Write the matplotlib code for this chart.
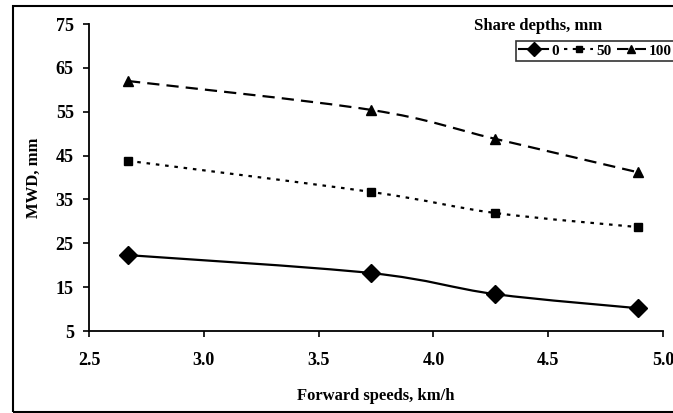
import matplotlib
matplotlib.use("Agg")
import matplotlib.pyplot as plt
from matplotlib.path import Path
from matplotlib.patches import PathPatch, Rectangle
from matplotlib.lines import Line2D
import numpy as np

plt.rcParams['font.family'] = ['Liberation Serif', 'DejaVu Serif']
plt.rcParams['font.weight'] = 'bold'

# data
speeds = [2.67, 3.73, 4.27, 4.89]
mwd_0 = [22.3, 18.2, 13.4, 10.2]
mwd_50 = [43.8, 36.7, 31.9, 28.7]
mwd_100 = [62.0, 55.4, 48.8, 41.2]
depth_labels = ['0', '50', '100']
yticks = [5, 15, 25, 35, 45, 55, 65, 75]
xticks = [2.5, 3.0, 3.5, 4.0, 4.5, 5.0]


def smooth_path(x, y):
    # excel-like smoothed line: catmull-rom converted to cubic beziers
    x = np.asarray(x, float)
    y = np.asarray(y, float)
    n = len(x)
    verts = [(x[0], y[0])]
    codes = [Path.MOVETO]
    for i in range(n - 1):
        i0 = max(i - 1, 0)
        i3 = min(i + 2, n - 1)
        c1 = (x[i] + (x[i + 1] - x[i0]) / 6, y[i] + (y[i + 1] - y[i0]) / 6)
        c2 = (x[i + 1] - (x[i3] - x[i]) / 6, y[i + 1] - (y[i3] - y[i]) / 6)
        verts += [c1, c2, (x[i + 1], y[i + 1])]
        codes += [Path.CURVE4] * 3
    return Path(verts, codes)


fig = plt.figure(figsize=(6.73, 4.13), dpi=100)
ax = fig.add_axes([89 / 673, 82 / 413, 574 / 673, 307 / 413])

series = [
    (mwd_0, 'D', 9.5, '-'),
    (mwd_50, 's', 6, (0, (1.6, 2.6))),
    (mwd_100, '^', 7, (0, (5.5, 3.2))),
]

handles = []
for (vals, mk, ms, ls), lab in zip(series, depth_labels):
    ax.add_patch(PathPatch(smooth_path(speeds, vals), fill=False,
                           edgecolor='black', lw=1.6, linestyle=ls,
                           capstyle='butt'))
    ax.plot(speeds, vals, linestyle='none', marker=mk, markersize=ms,
            color='black')
    handles.append(Line2D([], [], color='black', lw=1.5, linestyle=ls,
                          marker=mk, markersize=ms * 0.75, label=lab))

ax.set_xlim(2.5, 5.0)
ax.set_ylim(5, 75)
ax.set_xticks(xticks)
ax.set_xticklabels(['%.1f' % t for t in xticks])
ax.set_yticks(yticks)
ax.spines['top'].set_visible(False)
ax.spines['right'].set_visible(False)
ax.spines['left'].set_linewidth(1.3)
ax.spines['bottom'].set_linewidth(1.3)
ax.tick_params(direction='out', length=4, width=1.2, labelsize=13)
ax.tick_params(axis='x', pad=11)
ax.tick_params(axis='y', pad=7)

ax.set_xlabel('Forward speeds, km/h', fontsize=12, fontweight='bold', labelpad=14)
ax.set_ylabel('MWD, mm', fontsize=12, fontweight='bold', labelpad=10)

fig.text(538 / 673, 1 - 26 / 413, 'Share depths, mm', ha='center', va='center',
         fontsize=12, fontweight='bold')
leg = fig.legend(handles=handles, loc='upper left',
                 bbox_to_anchor=(516 / 673, 1 - 41 / 413), ncol=3,
                 frameon=True, fancybox=False, fontsize=11,
                 handlelength=1.9, handletextpad=0.2, columnspacing=0.35,
                 borderpad=0.2, borderaxespad=0)
leg.get_frame().set_edgecolor('black')
leg.get_frame().set_linewidth(1.2)

# outer frame around the whole figure (clipped at right/bottom)
fig.patches.append(Rectangle((13 / 673, 1 / 413), 700 / 673, 406 / 413,
                             transform=fig.transFigure, fill=False,
                             edgecolor='black', lw=1.5))

fig.savefig('out.png', dpi=100)
